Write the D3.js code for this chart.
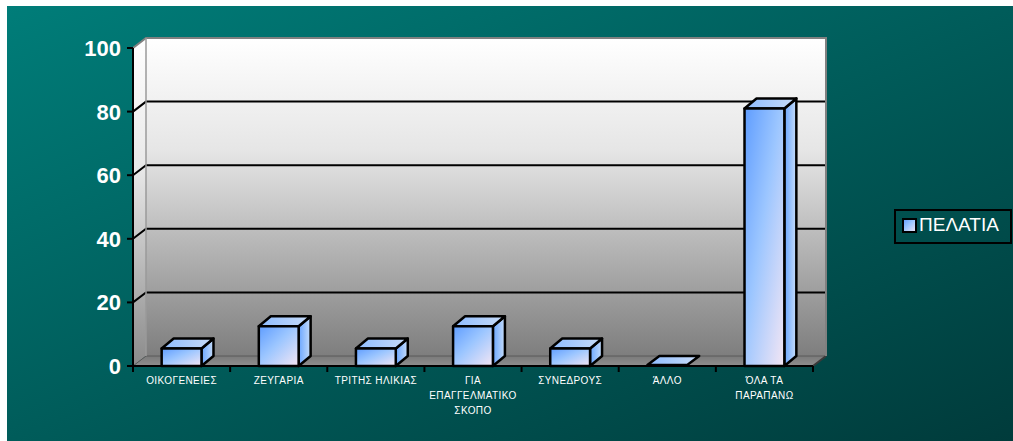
<!DOCTYPE html>
<html><head><meta charset="utf-8">
<script src="https://cdn.jsdelivr.net/npm/d3@7"></script>
<style>html,body{margin:0;padding:0;background:#fff;}svg{display:block;}</style>
</head><body>
<svg id="chart" width="1013" height="441"></svg>
<script>
const categories = ["ΟΙΚΟΓΕΝΕΙΕΣ", "ΖΕΥΓΑΡΙΑ", "ΤΡΙΤΗΣ ΗΛΙΚΙΑΣ", "ΓΙΑ|ΕΠΑΓΓΕΛΜΑΤΙΚΟ|ΣΚΟΠΟ", "ΣΥΝΕΔΡΟΥΣ", "ΆΛΛΟ", "ΌΛΑ ΤΑ|ΠΑΡΑΠΑΝΩ"];
const values = [5.5, 12.5, 5.5, 12.5, 5.5, 0, 81];
const yTicks = [0, 20, 40, 60, 80, 100];
const seriesName = "ΠΕΛΑΤΙΑ";

const svg = d3.select("#chart");
const defs = svg.append("defs");

function lin(id, x1, y1, x2, y2, stops) {
  const g = defs.append("linearGradient").attr("id", id)
    .attr("x1", x1).attr("y1", y1).attr("x2", x2).attr("y2", y2);
  stops.forEach(s => g.append("stop").attr("offset", s[0]).attr("stop-color", s[1]));
}
lin("bg", "0", "0", "1", "1", [[0, "#007d79"], [1, "#003b3b"]]);
lin("wall", "0", "0", "0", "1", [[0, "#ffffff"], [0.35, "#e6e6e6"], [1, "#7e7e7e"]]);
lin("lwall", "0", "0", "0", "1", [[0, "#ffffff"], [0.4, "#e8e8e8"], [1, "#8a8a8a"]]);
lin("floor", "0", "0", "0", "1", [[0, "#7a7a7a"], [1, "#8e8e8e"]]);
lin("front", "0", "0", "1", "1", [[0, "#5f9dff"], [0.45, "#9cc6ff"], [1, "#f4e6f4"]]);
lin("side", "0", "0", "1", "0", [[0, "#6aa6ff"], [1, "#c6ddfa"]]);
lin("top", "0", "0", "1", "0", [[0, "#8ebcff"], [1, "#c8dcf8"]]);

// background
svg.append("rect").attr("x", 7).attr("y", 6).attr("width", 1006).attr("height", 435).attr("fill", "url(#bg)");

const x = d3.scaleBand().domain(categories).range([133, 813]);
const y = d3.scaleLinear().domain([0, 100]).range([366, 48]);
const DX = 13, DY = -10;       // wall depth
const BDX = 12, BDY = -10;     // bar depth
const barW = x.bandwidth() * 0.41;

const x0 = x.range()[0], x1 = x.range()[1];
const pts = a => a.map(p => p.join(",")).join(" ");

// back wall
svg.append("polygon")
  .attr("points", pts([[x0 + DX, y(100) + DY], [x1 + DX, y(100) + DY], [x1 + DX, y(0) + DY], [x0 + DX, y(0) + DY]]))
  .attr("fill", "url(#wall)");
// left wall
svg.append("polygon")
  .attr("points", pts([[x0, y(100)], [x0 + DX, y(100) + DY], [x0 + DX, y(0) + DY], [x0, y(0)]]))
  .attr("fill", "url(#lwall)");
// floor
svg.append("polygon")
  .attr("points", pts([[x0, y(0)], [x1, y(0)], [x1 + DX, y(0) + DY], [x0 + DX, y(0) + DY]]))
  .attr("fill", "url(#floor)");
// floor edges
svg.append("line").attr("x1", x0 + DX).attr("x2", x1 + DX).attr("y1", y(0) + DY).attr("y2", y(0) + DY)
  .attr("stroke", "#5a5a5a").attr("stroke-width", 1);
svg.append("line").attr("x1", x0).attr("x2", x0 + DX).attr("y1", y(0)).attr("y2", y(0) + DY)
  .attr("stroke", "#5a5a5a").attr("stroke-width", 1);
svg.append("line").attr("x1", x1).attr("x2", x1 + DX).attr("y1", y(0)).attr("y2", y(0) + DY)
  .attr("stroke", "#3a3a3a").attr("stroke-width", 2);

// gridlines
const grid = yTicks.filter(t => t > 0 && t < 100);
svg.append("g").selectAll("polyline").data(grid).join("polyline")
  .attr("points", d => pts([[x0, y(d)], [x0 + DX, y(d) + DY], [x1 + DX, y(d) + DY]]))
  .attr("fill", "none").attr("stroke", "#000").attr("stroke-width", 2);

// wall borders (grey)
svg.append("polyline")
  .attr("points", pts([[x0, y(100)], [x0 + DX, y(100) + DY], [x1 + DX, y(100) + DY], [x1 + DX, y(0) + DY]]))
  .attr("fill", "none").attr("stroke", "#808080").attr("stroke-width", 2);
svg.append("line").attr("x1", x0 + DX).attr("x2", x0 + DX).attr("y1", y(100) + DY).attr("y2", y(0) + DY)
  .attr("stroke", "#9a9a9a").attr("stroke-width", 1.5);

// bars
const bars = svg.append("g");
categories.forEach((c, i) => {
  const v = values[i];
  const cx = x(c) + x.bandwidth() / 2;
  const l = cx - barW / 2, r = cx + barW / 2;
  const t = y(v), b = y(0);
  const g = bars.append("g").attr("stroke", "#000").attr("stroke-width", 2.5).attr("stroke-linejoin", "round");
  if (v > 0) {
    g.append("polygon").attr("points", pts([[r, t], [r + BDX, t + BDY], [r + BDX, b + BDY], [r, b]])).attr("fill", "url(#side)");
    g.append("polygon").attr("points", pts([[l, t], [l + BDX, t + BDY], [r + BDX, t + BDY], [r, t]])).attr("fill", "url(#top)");
    g.append("rect").attr("x", l).attr("y", t).attr("width", r - l).attr("height", b - t).attr("fill", "url(#front)");
  } else {
    g.append("polygon").attr("points", pts([[l, t - 1], [l + BDX, t + BDY], [r + BDX, t + BDY], [r, t - 1]])).attr("fill", "url(#top)");
  }
});

// y axis line and ticks
svg.append("line").attr("x1", x0).attr("x2", x0).attr("y1", y(100)).attr("y2", y(0))
  .attr("stroke", "#000").attr("stroke-width", 2);
const yAxis = svg.append("g");
yAxis.selectAll("line").data(yTicks).join("line")
  .attr("x1", x0 - 6).attr("x2", x0).attr("y1", d => y(d)).attr("y2", d => y(d))
  .attr("stroke", "#000").attr("stroke-width", 2);
yAxis.selectAll("text").data(yTicks).join("text")
  .attr("x", x0 - 12).attr("y", d => y(d)).attr("dy", "0.36em")
  .attr("text-anchor", "end").attr("fill", "#fff")
  .attr("font-family", "Liberation Sans, Arial, sans-serif").attr("font-weight", "bold").attr("font-size", 22)
  .text(d => d);

// x axis line and ticks
svg.append("line").attr("x1", x0 - 1).attr("x2", x1).attr("y1", y(0)).attr("y2", y(0))
  .attr("stroke", "#000").attr("stroke-width", 2);
const bounds = categories.map(c => x(c)).concat([x1]);
svg.append("g").selectAll("line").data(bounds).join("line")
  .attr("x1", d => d).attr("x2", d => d).attr("y1", y(0)).attr("y2", y(0) + 6)
  .attr("stroke", "#000").attr("stroke-width", 2);

// x labels
const xl = svg.append("g").attr("fill", "#fff")
  .attr("font-family", "Liberation Sans, Arial, sans-serif").attr("font-size", 10)
  .attr("letter-spacing", 0.4).attr("text-anchor", "middle");
categories.forEach(c => {
  const t = xl.append("text").attr("x", x(c) + x.bandwidth() / 2).attr("y", 384);
  c.split("|").forEach((line, k) => {
    t.append("tspan").attr("x", x(c) + x.bandwidth() / 2).attr("dy", k === 0 ? 0 : 15).text(line);
  });
});

// legend
const lg = svg.append("g");
lg.append("rect").attr("x", 895).attr("y", 210).attr("width", 116).attr("height", 33)
  .attr("fill", "none").attr("stroke", "#000").attr("stroke-width", 2);
lg.append("rect").attr("x", 903).attr("y", 219).attr("width", 13).attr("height", 13)
  .attr("fill", "url(#front)").attr("stroke", "#000").attr("stroke-width", 2);
lg.append("text").attr("x", 919).attr("y", 231).attr("fill", "#fff")
  .attr("font-family", "Liberation Sans, Arial, sans-serif").attr("font-size", 19)
  .text(seriesName);
</script>
</body></html>
